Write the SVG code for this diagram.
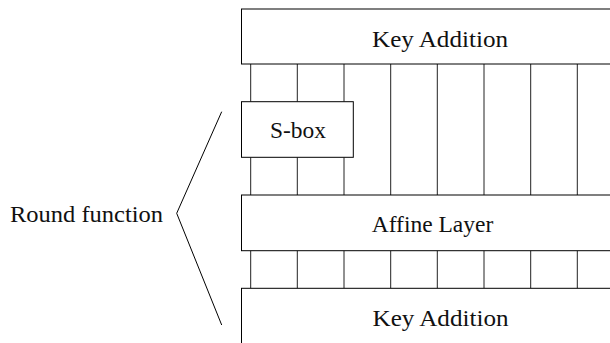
<svg xmlns="http://www.w3.org/2000/svg" width="610" height="343" viewBox="0 0 610 343">
<style>
.box{fill:#fff;stroke:#000;stroke-width:1}
.wire{stroke:#222;stroke-width:1;fill:none}
.lbl{font-family:"Liberation Serif","DejaVu Serif",serif;font-size:23.5px;fill:#111;text-anchor:middle}
</style>
<rect width="610" height="343" fill="#fff"/>
<g id="connectors">
<g class="wire">
<path d="M250.7 64V101.7M297.3 64V101.7M344 64V101.7"/>
<path d="M250.7 157.3V195M297.3 157.3V195M344 157.3V195"/>
<path d="M390.7 64V195M437.3 64V195M484 64V195M530.7 64V195M577.3 64V195"/>
<path d="M250.7 250.7V288.3M297.3 250.7V288.3M344 250.7V288.3M390.7 250.7V288.3M437.3 250.7V288.3M484 250.7V288.3M530.7 250.7V288.3M577.3 250.7V288.3"/>
<polyline points="221.7,111.7 176.7,213.3 221.7,325" stroke="#000"/>
</g>
</g>
<g id="key-addition-top">
<rect class="box" x="241.5" y="9" width="420" height="55"/>
<text class="lbl" x="440" y="46.7" textLength="136" lengthAdjust="spacingAndGlyphs">Key Addition</text>
</g>
<g id="sbox">
<rect class="box" x="241.5" y="101.7" width="111.8" height="55.6"/>
<text class="lbl" x="298" y="138.3" textLength="56" lengthAdjust="spacingAndGlyphs">S-box</text>
</g>
<g id="affine-layer">
<rect class="box" x="241.5" y="195" width="420" height="55.7"/>
<text class="lbl" x="432.5" y="231.7" textLength="121.6" lengthAdjust="spacingAndGlyphs">Affine Layer</text>
</g>
<g id="key-addition-bottom">
<rect class="box" x="241.5" y="288.3" width="420" height="70"/>
<text class="lbl" x="440.5" y="326" textLength="136" lengthAdjust="spacingAndGlyphs">Key Addition</text>
</g>
<g id="round-function">
<text class="lbl" x="86.5" y="221.7" textLength="153" lengthAdjust="spacingAndGlyphs">Round function</text>
</g>
</svg>
